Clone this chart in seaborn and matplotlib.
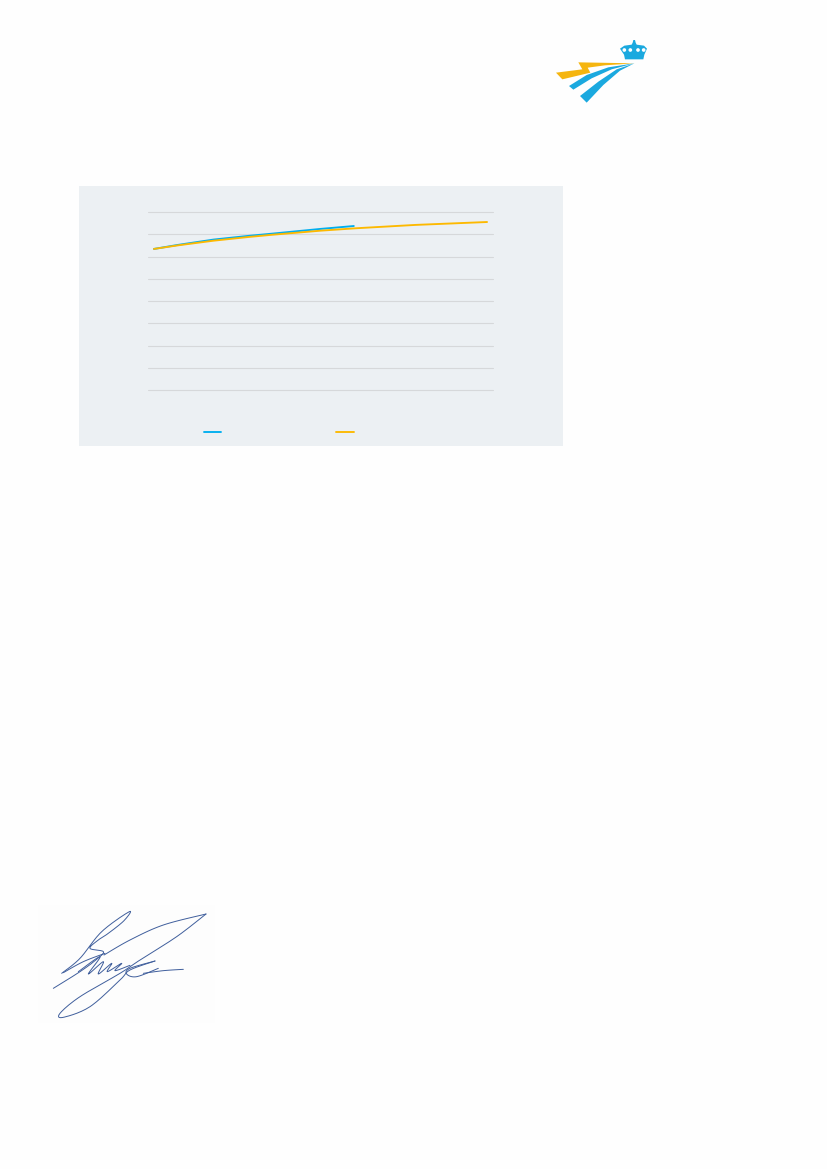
import numpy as np
import pandas as pd
import seaborn as sns
import matplotlib.pyplot as plt
from matplotlib.patches import Rectangle, Polygon, Circle

# ---------- chart data ----------
blue_steps = [0, 2, 5, 8, 10, 14, 16.8]
blue_values = [63.4, 65.2, 67.6, 69.3, 70.3, 72.4, 73.7]
orange_steps = [0, 2, 5, 8, 10, 14, 17, 22, 28]
orange_values = [63.4, 65.0, 67.1, 68.8, 69.8, 71.6, 72.7, 74.2, 75.5]
grid_values = [0, 10, 20, 30, 40, 50, 60, 70, 80]
series_names = ["Blauw", "Geel"]

W, H = 827, 1169
PAGE = "#FEFEFE"
PANEL = "#ECF0F3"
GRID = "#D6D8DA"
BLUE = "#00AEEF"
ORANGE = "#FDB900"

sns.set_theme(style="white")
fig = plt.figure(figsize=(W / 100, H / 100), dpi=100, facecolor=PAGE)


def rect(x0, y0, x1, y1):
    """Pixel box (origin top-left) to figure fractions."""
    return [x0 / W, 1 - y1 / H, (x1 - x0) / W, (y1 - y0) / H]


# Decoration layer in page pixels
page = fig.add_axes([0, 0, 1, 1], zorder=0)
page.set_xlim(0, W)
page.set_ylim(H, 0)
page.axis("off")
page.add_patch(Rectangle((79, 186), 484, 259.5, fc=PANEL, ec="none"))

# Chart
df = pd.concat([
    pd.DataFrame({"stap": blue_steps, "waarde": blue_values, "reeks": series_names[0]}),
    pd.DataFrame({"stap": orange_steps, "waarde": orange_values, "reeks": series_names[1]}),
])
ax = fig.add_axes(rect(148, 212, 493, 390), zorder=1)
ax.patch.set_alpha(0)
sns.lineplot(data=df, x="stap", y="waarde", hue="reeks", hue_order=series_names,
             palette=[BLUE, ORANGE], linewidth=1.35, errorbar=None, ax=ax, legend=True)
ax.set_xlim(-0.5, 28.5)
ax.set_ylim(0, 80)
ax.set_yticks(grid_values)
ax.set_xticks([])
ax.set_xlabel("")
ax.set_ylabel("")
ax.tick_params(left=False, bottom=False, labelleft=False, labelbottom=False)
ax.yaxis.grid(True, color=GRID, linewidth=0.8, zorder=0)
ax.set_axisbelow(True)
for g in ax.get_ygridlines():
    g.set_clip_on(False)
sns.despine(ax=ax, left=True, bottom=True, top=True, right=True)

handles, _ = ax.get_legend_handles_labels()
ax.legend(handles, ["", ""], ncol=2, frameon=False, fontsize=10,
          loc="center left", bbox_to_anchor=(203.5 / W, 1 - 432.5 / H),
          bbox_transform=fig.transFigure, borderpad=0, borderaxespad=0,
          handlelength=1.25, handletextpad=0, columnspacing=8.32)

# Logo (zoom-crop coordinates, 3x, offset 545,30)
def logo(pts):
    return [(545 + x / 3, 30 + y / 3) for x, y in pts]


LOGO_BLUE = "#1BA9DF"
page.add_patch(Polygon(logo([(100, 97), (268, 100), (180, 106), (128, 113), (136, 128),
                             (52, 148), (33, 128), (112, 118)]), fc="#F5B50F", ec="none"))
page.add_patch(Polygon(logo([(268, 100), (190, 112), (125, 135), (72, 168), (85, 179),
                             (140, 145), (200, 118)]), fc=LOGO_BLUE, ec="none"))
page.add_patch(Polygon(logo([(268, 100), (215, 118), (160, 155), (105, 198), (125, 218),
                             (175, 165), (225, 122)]), fc=LOGO_BLUE, ec="none"))
# crown
page.add_patch(Polygon(logo([(225, 56), (238, 47), (260, 44), (263, 38), (265, 30), (270, 30),
                             (272, 38), (275, 44), (297, 47), (306, 56), (298, 74), (295, 88),
                             (240, 88), (237, 74)]), fc=LOGO_BLUE, ec="none"))
for cx, cy, r in [(238, 60, 5.5), (256, 60, 5.5), (279, 60, 5.5), (296, 60, 5.5)]:
    page.add_patch(Circle(logo([(cx, cy)])[0], r / 3, fc="white", ec="none"))


# Signature (zoom-crop coordinates, 3x, offset 30,900)
def smooth(pts, n=14):
    p = np.array(pts, dtype=float)
    p = np.vstack([p[0], p, p[-1]])
    out = []
    for i in range(1, len(p) - 2):
        for t in np.linspace(0, 1, n, endpoint=False):
            a = 2 * p[i] + (p[i + 1] - p[i - 1]) * t
            b = (2 * p[i - 1] - 5 * p[i] + 4 * p[i + 1] - p[i + 2]) * t ** 2
            c = (-p[i - 1] + 3 * p[i] - 3 * p[i + 1] + p[i + 2]) * t ** 3
            out.append(0.5 * (a + b + c))
    out.append(p[-2])
    out = np.array(out)
    return 30 + out[:, 0] / 3, 900 + out[:, 1] / 3


page.add_patch(Rectangle((38, 905), 177, 118, fc="#FDFDFD", ec="none"))
SIG = "#3F5E9C"
strokes = [
    [(95, 220), (150, 175), (215, 95), (298, 35), (282, 62), (235, 100), (205, 120), (180, 145),
     (220, 155), (200, 178), (150, 215), (70, 265)],
    [(100, 218), (160, 185), (225, 160)],
    [(528, 42), (400, 75), (300, 120), (222, 165)],
    [(528, 42), (440, 110), (330, 180), (270, 220), (150, 290), (90, 340), (100, 352),
     (180, 320), (270, 240), (300, 210), (375, 183)],
    [(145, 215), (210, 170), (175, 222), (220, 185), (205, 222), (245, 190), (232, 215),
     (275, 190), (255, 212), (300, 196)],
    [(375, 183), (300, 205), (290, 222), (320, 230), (385, 205)],
    [(340, 220), (400, 212), (460, 208)],
]
for s in strokes:
    x, y = smooth(s)
    page.plot(x, y, color=SIG, lw=0.7, solid_capstyle="round")

fig.savefig("out.png", dpi=100, facecolor=PAGE)
